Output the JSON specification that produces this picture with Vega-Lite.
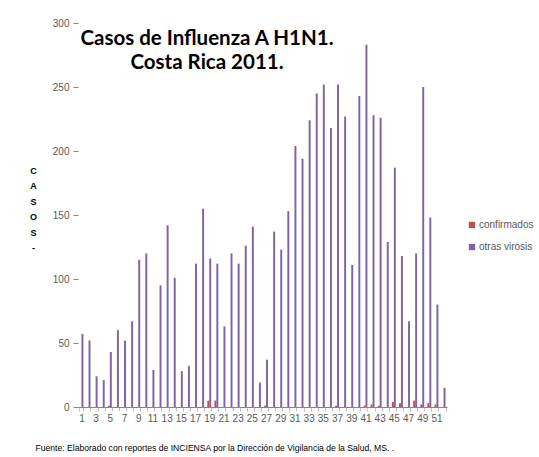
{
  "$schema": "https://vega.github.io/schema/vega-lite/v6.json",
  "width": 369,
  "height": 384,
  "autosize": {"type": "none"},
  "padding": {"left": 78, "top": 23, "right": 92, "bottom": 50},
  "background": "white",
  "title": {
    "text": ["Casos de Influenza A H1N1.", "Costa Rica 2011."],
    "font": "Lato",
    "fontSize": 20.5,
    "fontWeight": "bold",
    "color": "black",
    "anchor": "start",
    "align": "center",
    "frame": "group",
    "baseline": "top",
    "offset": 0,
    "dx": 129,
    "dy": 55,
    "lineHeight": 24
  },
  "data": {
    "values": [
      {"semana": 1, "confirmados": 0, "otras virosis": 57},
      {"semana": 2, "confirmados": 0, "otras virosis": 52},
      {"semana": 3, "confirmados": 0, "otras virosis": 24},
      {"semana": 4, "confirmados": 0, "otras virosis": 21},
      {"semana": 5, "confirmados": 1, "otras virosis": 43},
      {"semana": 6, "confirmados": 0, "otras virosis": 60},
      {"semana": 7, "confirmados": 0, "otras virosis": 52},
      {"semana": 8, "confirmados": 0, "otras virosis": 67},
      {"semana": 9, "confirmados": 0, "otras virosis": 115},
      {"semana": 10, "confirmados": 0, "otras virosis": 120},
      {"semana": 11, "confirmados": 0, "otras virosis": 29},
      {"semana": 12, "confirmados": 0, "otras virosis": 95},
      {"semana": 13, "confirmados": 0, "otras virosis": 142},
      {"semana": 14, "confirmados": 0, "otras virosis": 101},
      {"semana": 15, "confirmados": 0, "otras virosis": 28},
      {"semana": 16, "confirmados": 0, "otras virosis": 32},
      {"semana": 17, "confirmados": 0, "otras virosis": 112},
      {"semana": 18, "confirmados": 0, "otras virosis": 155},
      {"semana": 19, "confirmados": 5, "otras virosis": 116},
      {"semana": 20, "confirmados": 5, "otras virosis": 112},
      {"semana": 21, "confirmados": 0, "otras virosis": 63},
      {"semana": 22, "confirmados": 0, "otras virosis": 120},
      {"semana": 23, "confirmados": 0, "otras virosis": 112},
      {"semana": 24, "confirmados": 0, "otras virosis": 126},
      {"semana": 25, "confirmados": 0, "otras virosis": 141},
      {"semana": 26, "confirmados": 0, "otras virosis": 19},
      {"semana": 27, "confirmados": 1, "otras virosis": 37},
      {"semana": 28, "confirmados": 0, "otras virosis": 137},
      {"semana": 29, "confirmados": 0, "otras virosis": 123},
      {"semana": 30, "confirmados": 0, "otras virosis": 153},
      {"semana": 31, "confirmados": 0, "otras virosis": 204},
      {"semana": 32, "confirmados": 0, "otras virosis": 194},
      {"semana": 33, "confirmados": 0, "otras virosis": 224},
      {"semana": 34, "confirmados": 0, "otras virosis": 245},
      {"semana": 35, "confirmados": 0, "otras virosis": 252},
      {"semana": 36, "confirmados": 0, "otras virosis": 218},
      {"semana": 37, "confirmados": 1, "otras virosis": 252},
      {"semana": 38, "confirmados": 0, "otras virosis": 227},
      {"semana": 39, "confirmados": 0, "otras virosis": 111},
      {"semana": 40, "confirmados": 0, "otras virosis": 243},
      {"semana": 41, "confirmados": 1, "otras virosis": 283},
      {"semana": 42, "confirmados": 2, "otras virosis": 228},
      {"semana": 43, "confirmados": 1, "otras virosis": 226},
      {"semana": 44, "confirmados": 0, "otras virosis": 129},
      {"semana": 45, "confirmados": 4, "otras virosis": 187},
      {"semana": 46, "confirmados": 3, "otras virosis": 118},
      {"semana": 47, "confirmados": 0, "otras virosis": 67},
      {"semana": 48, "confirmados": 5, "otras virosis": 120},
      {"semana": 49, "confirmados": 2, "otras virosis": 250},
      {"semana": 50, "confirmados": 3, "otras virosis": 148},
      {"semana": 51, "confirmados": 2, "otras virosis": 80},
      {"semana": 52, "confirmados": 0, "otras virosis": 15}
    ]
  },
  "transform": [
    {"fold": ["confirmados", "otras virosis"], "as": ["tipo", "casos"]}
  ],
  "mark": {"type": "bar"},
  "encoding": {
    "x": {
      "field": "semana",
      "type": "ordinal",
      "sort": "ascending",
      "scale": {"paddingInner": 0.45, "paddingOuter": 0.21},
      "axis": {
        "title": "Fuente: Elaborado con reportes de INCIENSA por la Dirección de Vigilancia de la Salud, MS. .",
        "titleFont": "Liberation Sans",
        "titleFontSize": 8.6,
        "titleFontWeight": "normal",
        "titleColor": "black",
        "titleAnchor": "start",
        "titleAlign": "left",
        "titleBaseline": "middle",
        "titleX": -43,
        "titleY": 40,
        "labelAngle": 0,
        "labelOverlap": false,
        "labelExpr": "datum.value % 2 == 1 ? datum.label : ''",
        "labelFont": "Liberation Sans",
        "labelFontSize": 10,
        "labelColor": "#595959",
        "labelPadding": 2,
        "tickBand": "extent",
        "tickSize": 4,
        "tickColor": "#BFBFBF",
        "domainColor": "#868686",
        "grid": false
      }
    },
    "xOffset": {"field": "tipo", "sort": ["confirmados", "otras virosis"]},
    "y": {
      "field": "casos",
      "type": "quantitative",
      "scale": {"domain": [0, 300], "nice": false},
      "axis": {
        "values": [0, 50, 100, 150, 200, 250, 300],
        "title": ["C", "A", "S", "O", "S", "-"],
        "titleAngle": 0,
        "titleFont": "Liberation Sans",
        "titleFontSize": 9,
        "titleFontWeight": "bold",
        "titleColor": "black",
        "titleAlign": "center",
        "titleBaseline": "top",
        "titleLineHeight": 15.5,
        "titleX": -45,
        "titleY": 143,
        "labelFont": "Liberation Sans",
        "labelFontSize": 10,
        "labelColor": "#595959",
        "labelPadding": 4,
        "tickSize": 5,
        "tickColor": "#868686",
        "domain": false,
        "grid": false
      }
    },
    "color": {
      "field": "tipo",
      "type": "nominal",
      "scale": {"domain": ["confirmados", "otras virosis"], "range": ["#C0504D", "#8064A2"]},
      "legend": {
        "title": null,
        "orient": "none",
        "legendX": 389,
        "legendY": 197,
        "symbolType": "square",
        "symbolSize": 40,
        "symbolStrokeWidth": 0,
        "labelFont": "Liberation Sans",
        "labelFontSize": 10,
        "labelColor": "#595959",
        "labelOffset": 2,
        "rowPadding": 12
      }
    }
  },
  "config": {"view": {"stroke": null}}
}
